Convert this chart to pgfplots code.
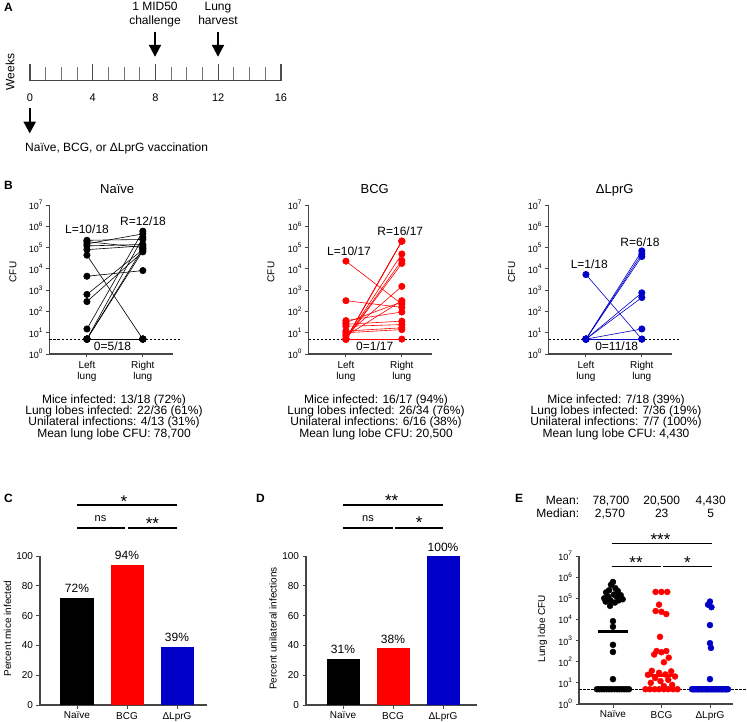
\documentclass[border=0pt]{standalone}
\usepackage{fontspec}
\setmainfont{Liberation Sans}
\usepackage{pgfplots}
\pgfplotsset{compat=1.18}

\definecolor{pred}{RGB}{255,0,0}
\definecolor{pblue}{RGB}{0,0,200}
\definecolor{spine}{RGB}{70,70,70}
\newcommand\fs[1]{\fontsize{#1}{#1}\selectfont}
\newcommand\pw[1]{{\fs{9}10\raisebox{0.5em}{\fs{6.5}#1}}}
% one mouse: left lobe -> right lobe
\newcommand\ms[3]{\addplot[mouse,#1] coordinates {(1,#2) (2,#3)};}
% text helper, y measured downwards in the scope below
\newcommand\tx[4][base]{\node[anchor=#1,inner sep=0pt,font=\fs{#2}] at (#3) {#4};}

\pgfplotsset{
  prism/.style={
    scale only axis, anchor=south west, clip=false,
    axis lines*=left, axis line style={-, line width=1.1pt, spine},
    tick align=outside, major tick length=3.5pt,
    tick style={line width=0.9pt, spine},
    tick label style={font=\fs{10}},
  },
  mouse/.style={mark=*, mark size=3.2pt, line width=0.6pt},
  lod/.style={dash pattern=on 2.5pt off 1.5pt, line width=0.8pt, black},
  onebar/.style={ybar, bar width=33pt, bar shift=0pt, draw=none, fill=#1},
  dots/.style={only marks, mark=*, mark size=3pt, #1},
}

\begin{document}
\begin{tikzpicture}
\path[use as bounding box] (0pt,0pt) rectangle (747pt,-722pt);

\begin{scope}[x=1pt,y=-1pt]
% ---------- panel letters
\node[anchor=base west,inner sep=0pt,font=\fs{12}\bfseries] at (4,11.7) {A};
\node[anchor=base west,inner sep=0pt,font=\fs{12}\bfseries] at (4,189.3) {B};
\node[anchor=base west,inner sep=0pt,font=\fs{12}\bfseries] at (4,502.7) {C};
\node[anchor=base west,inner sep=0pt,font=\fs{12}\bfseries] at (256,502.7) {D};
\node[anchor=base west,inner sep=0pt,font=\fs{12}\bfseries] at (515,502.7) {E};

% ---------- panel A annotations
\tx{12}{155,11}{1 MID50}
\tx{12}{155,25}{challenge}
\tx{12}{218,11}{Lung}
\tx{12}{218,25}{harvest}
\node[rotate=90,inner sep=0pt,font=\fs{12}] at (10,72) {Weeks};
\foreach \xx in {155,218}{
  \draw[line width=1.6pt] (\xx,31.7) -- (\xx,46);
  \fill (\xx-6.2,45) -- (\xx+6.2,45) -- (\xx,56.7) -- cycle;
}
\draw[line width=1.6pt] (29.7,108.3) -- (29.7,123);
\fill (23.4,121.7) -- (36,121.7) -- (29.7,133.3) -- cycle;
\node[anchor=base west,inner sep=0pt,font=\fs{12}] at (25,151.7) {Naïve, BCG, or ΔLprG vaccination};

% ---------- panel B texts
\tx{13}{117.2,193.3}{Naïve}
\tx{13}{374.7,193.3}{BCG}
\tx{13}{614.7,193.3}{ΔLprG}
\node[rotate=90,inner sep=0pt,font=\fs{10}] at (13,272) {CFU};
\node[rotate=90,inner sep=0pt,font=\fs{10}] at (271,272) {CFU};
\node[rotate=90,inner sep=0pt,font=\fs{10}] at (511.7,272) {CFU};
\tx{12}{87,234}{L=10/18}
\tx{12}{143,225.7}{R=12/18}
\tx{12}{112.5,350.3}{0=5/18}
\tx{12}{349,255.7}{L=10/17}
\tx{12}{400.3,235.7}{R=16/17}
\tx{12}{374.7,350.3}{0=1/17}
\tx{12}{589.3,269}{L=1/18}
\tx{12}{640,246.3}{R=6/18}
\tx{12}{616.7,350.3}{0=11/18}

\tx{12}{114,403.1}{Mice infected: 13/18 (72\%)}
\tx{12}{114,414.4}{Lung lobes infected: 22/36 (61\%)}
\tx{12}{114,425.7}{Unilateral infections: 4/13 (31\%)}
\tx{12}{114,437}{Mean lung lobe CFU: 78,700}
\tx{12}{376,403.1}{Mice infected: 16/17 (94\%)}
\tx{12}{376,414.4}{Lung lobes infected: 26/34 (76\%)}
\tx{12}{376,425.7}{Unilateral infections: 6/16 (38\%)}
\tx{12}{376,437}{Mean lung lobe CFU: 20,500}
\tx{12}{616,403.1}{Mice infected: 7/18 (39\%)}
\tx{12}{616,414.4}{Lung lobes infected: 7/36 (19\%)}
\tx{12}{616,425.7}{Unilateral infections: 7/7 (100\%)}
\tx{12}{616,437}{Mean lung lobe CFU: 4,430}

% ---------- panels C, D, E: labels and significance bars
\node[rotate=90,inner sep=0pt,font=\fs{10}] at (7.5,628.5) {Percent mice infected};
\node[rotate=90,inner sep=0pt,font=\fs{10}] at (273,628.5) {Percent unilateral infections};
\node[rotate=90,inner sep=0pt,font=\fs{10}] at (542.5,628.5) {Lung lobe CFU};

\begin{scope}[line width=1.4pt]
\draw (77,505) -- (177,505);
\draw (77,528) -- (125,528);
\draw (128,528) -- (177,528);
\draw (343,505) -- (443,505);
\draw (343,528) -- (392.7,528);
\draw (395,528) -- (443,528);
\draw (611.7,543.3) -- (711.7,543.3);
\draw (611.7,566.7) -- (661,566.7);
\draw (663.3,566.7) -- (711.7,566.7);
\end{scope}
\tx{17}{124,507}{*}
\tx{11}{100.5,521.7}{ns}
\tx{17}{152.5,529.5}{**}
\tx{17}{391.7,506.7}{**}
\tx{11}{368,521.7}{ns}
\tx{17}{419.2,528}{*}
\tx{17}{660.5,545}{***}
\tx{17}{636,568.3}{**}
\tx{17}{687.5,568}{*}

\tx[base east]{12}{579.3,504}{Mean:}
\tx[base east]{12}{579.3,517.5}{Median:}
\tx{12}{611,504}{78,700}
\tx{12}{661.7,504}{20,500}
\tx{12}{710.7,504}{4,430}
\tx{12}{610,517.5}{2,570}
\tx{12}{661.7,517.5}{23}
\tx{12}{710.7,517.5}{5}
\end{scope}

% ---------- panel A timeline
\begin{axis}[at={(30pt,-80.7pt)}, anchor=south west, scale only axis,
  width=251pt, height=20pt, xmin=0, xmax=16, ymin=0, ymax=1,
  axis x line*=bottom, hide y axis,
  axis line style={-, line width=1.2pt, spine},
  xtick={0,4,8,12,16}, minor xtick={1,2,3,5,6,7,9,10,11,13,14,15},
  tick align=inside, major tick length=17pt, minor tick length=13.5pt,
  major tick style={line width=1.3pt, black!70},
  minor tick style={line width=1pt, black!55},
  xticklabel style={font=\fs{11}, inner sep=0pt, anchor=north, yshift=-13pt},
  /pgf/number format/assume math mode=true]
\end{axis}

% ---------- panel B: naive
\begin{axis}[prism, ymode=log, ymin=1, ymax=1e7, yminorticks=false,
  ytick={1,10,100,1000,10000,100000,1000000,10000000},
  yticklabels={\pw0,\pw1,\pw2,\pw3,\pw4,\pw5,\pw6,\pw7},
  width=123.5pt, height=149pt, xmin=0.33, xmax=2.54,
  xtick={1,2}, xticklabels={Left\\lung,Right\\lung},
  xticklabel style={align=center, font=\fontsize{10}{11}\selectfont},
  at={(49.5pt,-354pt)}]
\addplot[lod] coordinates {(0.33,5) (2.66,5)};
\ms{black}{2.2e5}{2.4e5}
\ms{black}{1.9e5}{1.0e5}
\ms{black}{1.5e5}{4.4e5}
\ms{black}{1.2e5}{1.4e5}
\ms{black}{8e4}{1.2e5}
\ms{black}{4.4e4}{5}
\ms{black}{4.5e3}{8.3e3}
\ms{black}{630}{8e4}
\ms{black}{290}{6.3e4}
\ms{black}{15}{5.9e5}
\ms{black}{5}{3e5}
\ms{black}{5}{9e4}
\ms{black}{5}{7e4}
\ms{black}{5}{5}
\ms{black}{5}{5}
\ms{black}{5}{5}
\ms{black}{5}{5}
\ms{black}{5}{5}
\end{axis}

% ---------- panel B: BCG
\begin{axis}[prism, ymode=log, ymin=1, ymax=1e7, yminorticks=false,
  ytick={1,10,100,1000,10000,100000,1000000,10000000},
  yticklabels={\pw0,\pw1,\pw2,\pw3,\pw4,\pw5,\pw6,\pw7},
  width=123.5pt, height=149pt, xmin=0.33, xmax=2.54,
  xtick={1,2}, xticklabels={Left\\lung,Right\\lung},
  xticklabel style={align=center, font=\fontsize{10}{11}\selectfont},
  at={(308.5pt,-354pt)}]
\addplot[lod] coordinates {(0.33,5) (2.66,5)};
\ms{pred}{2.3e4}{220}
\ms{pred}{320}{155}
\ms{pred}{37}{94}
\ms{pred}{30}{280}
\ms{pred}{25}{35}
\ms{pred}{20}{24}
\ms{pred}{12}{17}
\ms{pred}{10}{14}
\ms{pred}{8}{1.5e3}
\ms{pred}{7}{320}
\ms{pred}{5}{2e5}
\ms{pred}{5}{2e5}
\ms{pred}{5}{2e5}
\ms{pred}{5}{5e4}
\ms{pred}{5}{2.5e4}
\ms{pred}{5}{1.8e4}
\ms{pred}{5}{5}
\end{axis}

% ---------- panel B: delta LprG
\begin{axis}[prism, ymode=log, ymin=1, ymax=1e7, yminorticks=false,
  ytick={1,10,100,1000,10000,100000,1000000,10000000},
  yticklabels={\pw0,\pw1,\pw2,\pw3,\pw4,\pw5,\pw6,\pw7},
  width=123.5pt, height=149pt, xmin=0.33, xmax=2.54,
  xtick={1,2}, xticklabels={Left\\lung,Right\\lung},
  xticklabel style={align=center, font=\fontsize{10}{11}\selectfont},
  at={(548.5pt,-354pt)}]
\addplot[lod] coordinates {(0.33,5) (2.66,5)};
\ms{pblue}{5.4e3}{5}
\ms{pblue}{5}{7e4}
\ms{pblue}{5}{5e4}
\ms{pblue}{5}{3.8e4}
\ms{pblue}{5}{750}
\ms{pblue}{5}{450}
\ms{pblue}{5}{15}
\ms{pblue}{5}{5}
\end{axis}

% ---------- panel C
\begin{axis}[prism, width=167pt, height=149pt, xmin=-0.74, xmax=2.6,
  ymin=0, ymax=100, ytick={0,20,40,60,80,100}, xtick={0,1,2},
  xticklabels={Naïve,BCG,ΔLprG}, at={(40pt,-705pt)},
  /pgf/number format/assume math mode=true]
\addplot[onebar=black] coordinates {(0,72)};
\addplot[onebar=pred] coordinates {(1,94)};
\addplot[onebar=pblue] coordinates {(2,39)};
\node[anchor=base,inner sep=0pt,font=\fs{12},yshift=5pt] at (axis cs:0,72) {72\%};
\node[anchor=base,inner sep=0pt,font=\fs{12},yshift=5pt] at (axis cs:1,94) {94\%};
\node[anchor=base,inner sep=0pt,font=\fs{12},yshift=5pt] at (axis cs:2,39) {39\%};
\end{axis}

% ---------- panel D
\begin{axis}[prism, width=171pt, height=149pt, xmin=-0.74, xmax=2.68,
  ymin=0, ymax=100, ytick={0,20,40,60,80,100}, xtick={0,1,2},
  xticklabels={Naïve,BCG,ΔLprG}, at={(306pt,-705pt)},
  /pgf/number format/assume math mode=true]
\addplot[onebar=black] coordinates {(0,31)};
\addplot[onebar=pred] coordinates {(1,38)};
\addplot[onebar=pblue] coordinates {(2,100)};
\node[anchor=base,inner sep=0pt,font=\fs{12},yshift=5pt] at (axis cs:0,31) {31\%};
\node[anchor=base,inner sep=0pt,font=\fs{12},yshift=5pt] at (axis cs:1,38) {38\%};
\node[anchor=base,inner sep=0pt,font=\fs{12},yshift=5pt] at (axis cs:2,100) {100\%};
\end{axis}

% ---------- panel E
\begin{axis}[prism, ymode=log, ymin=1, ymax=1e7, yminorticks=false,
  ytick={1,10,100,1000,10000,100000,1000000,10000000},
  yticklabels={\pw0,\pw1,\pw2,\pw3,\pw4,\pw5,\pw6,\pw7},
  width=154pt, height=148pt, xmin=-0.70, xmax=2.475,
  xtick={0,1,2}, xticklabels={Naïve,BCG,ΔLprG}, at={(579pt,-704pt)}]
\addplot[lod] coordinates {(-0.70,5) (2.80,5)};
\addplot[dots=black] coordinates {
  (0,5.9e5) (-0.04,4.4e5) (0.05,3e5) (-0.08,2.4e5) (0.1,2.2e5) (-0.14,1.9e5)
  (0.02,1.5e5) (0.16,1.4e5) (-0.1,1.2e5) (0.08,1.2e5) (-0.18,1e5) (0.2,9e4)
  (-0.05,8e4) (0.12,8e4) (-0.15,7e4) (0.04,6.3e4) (-0.06,4.4e4)
  (0,8.3e3) (0,4.5e3) (0,630) (0,290) (0,15)
  (-0.33,5) (-0.28,5) (-0.23,5) (-0.18,5) (-0.13,5) (-0.08,5) (-0.03,5)
  (0.03,5) (0.08,5) (0.13,5) (0.18,5) (0.23,5) (0.28,5) (0.33,5)
};
\addplot[dots=pred] coordinates {
  (0.88,2e5) (1,2e5) (1.12,2e5) (0.95,5e4) (0.88,2.5e4) (1,2.3e4) (1.1,1.8e4)
  (0.97,1.5e3) (0.9,320) (1.1,320) (1,280) (0.85,220) (1.15,155) (1.05,94)
  (0.8,37) (1.2,35) (0.95,30) (1.08,25) (0.72,24) (1.28,20) (0.87,17)
  (1.14,14) (0.98,12) (0.78,10) (1.22,8) (1.05,7)
  (0.67,5) (0.76,5) (0.86,5) (0.95,5) (1.05,5) (1.14,5) (1.24,5) (1.33,5)
};
\addplot[dots=pblue] coordinates {
  (2,7e4) (1.96,5e4) (2.03,3.8e4) (2,5.4e3) (2,750) (2.02,450) (2,15)
  (1.63,5) (1.66,5) (1.68,5) (1.71,5) (1.74,5) (1.76,5) (1.79,5) (1.82,5)
  (1.84,5) (1.87,5) (1.9,5) (1.92,5) (1.95,5) (1.97,5) (2.0,5) (2.03,5)
  (2.05,5) (2.08,5) (2.1,5) (2.13,5) (2.16,5) (2.18,5) (2.21,5) (2.24,5)
  (2.26,5) (2.29,5) (2.32,5) (2.34,5) (2.37,5)
};
\addplot[black, line width=3pt] coordinates {(-0.31,2570) (0.31,2570)};
\addplot[pred, line width=3pt] coordinates {(0.68,23) (1.32,23)};
\addplot[pblue, line width=3pt] coordinates {(1.68,5) (2.32,5)};
\end{axis}
\end{tikzpicture}
\end{document}
